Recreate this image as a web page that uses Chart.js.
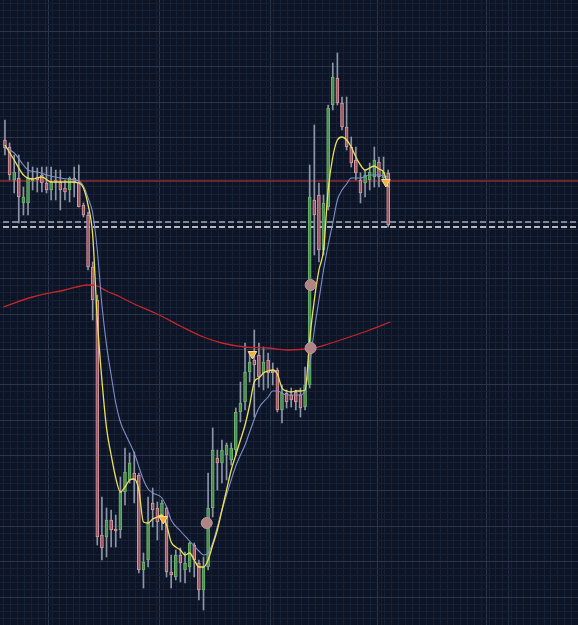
<!DOCTYPE html>
<html>
<head>
<meta charset="utf-8">
<script src="https://cdn.jsdelivr.net/npm/chart.js@4.4.1/dist/chart.umd.min.js"></script>
<style>
  html, body { margin: 0; padding: 0; background: #0c1425; overflow: hidden; }
  #chart { display: block; }
</style>
</head>
<body>
<canvas id="chart" width="578" height="625"></canvas>
<script>
// candles, one entry per bar (index = position in the array)
const open  = [1485,1478,1445,1447,1422,1422,1444,1448,1450,1442,1435,1445,1443,1437,1435,1447,1443,1420,1410,1358,
               1325,1090,1088,1105,1096,1095,1133,1145,1152,1150,1055,1065,1122,1117,1105,1117,1053,1048,1070,1055,
               1058,1080,1062,1035,1058,1117,1167,1162,1170,1165,1175,1213,1223,1253,1265,1270,1252,1265,1254,1255,
               1215,1232,1230,1233,1230,1218,1240,1425,1430,1375,1418,1520,1547,1522,1498,1478,1465,1445,1442,1445,
               1448,1463,1447,1452];
const high  = [1505,1482,1470,1470,1438,1463,1458,1457,1458,1458,1458,1455,1455,1445,1448,1458,1460,1422,1413,1363,
               1330,1128,1117,1115,1110,1148,1177,1172,1173,1152,1072,1128,1137,1123,1125,1118,1070,1075,1077,1073,
               1083,1082,1065,1068,1152,1197,1175,1185,1182,1182,1217,1243,1282,1272,1295,1282,1278,1272,1262,1257,
               1240,1235,1237,1235,1237,1258,1460,1500,1442,1430,1520,1562,1572,1528,1528,1488,1478,1452,1455,1462,
               1478,1468,1468,1455];
const low   = [1470,1445,1432,1402,1410,1410,1435,1433,1433,1432,1425,1425,1415,1425,1423,1428,1418,1408,1355,1305,
               1080,1065,1068,1078,1078,1087,1120,1142,1122,1052,1037,1058,1098,1085,1095,1048,1037,1045,1043,1042,
               1053,1048,1025,1015,1055,1108,1135,1142,1145,1160,1170,1203,1215,1243,1208,1238,1235,1237,1240,1213,
               1202,1217,1218,1215,1208,1215,1237,1370,1363,1370,1415,1515,1520,1495,1475,1458,1445,1422,1428,1435,
               1438,1438,1443,1398];
const close = [1477,1450,1453,1428,1428,1447,1447,1445,1442,1435,1443,1444,1435,1433,1447,1443,1418,1410,1358,1325,
               1088,1077,1105,1095,1094,1133,1153,1162,1145,1055,1063,1103,1115,1103,1122,1053,1050,1070,1062,1062,
               1082,1065,1035,1058,1117,1175,1162,1175,1180,1177,1213,1222,1253,1263,1260,1248,1263,1252,1252,1215,
               1232,1223,1225,1223,1217,1240,1428,1410,1375,1422,1517,1548,1522,1498,1478,1462,1452,1432,1450,1453,
               1465,1448,1453,1400];

// moving averages: [bar index, value]
const fastMaIdx = [0,2,4,6,8,10,12,14,16,17,18,19,20,21,22,23,24,25,26,27,28,29,30,31,32,33,34,35,36,37,38,39,40,41,42,43,
                   44,45,46,47,48,49,50,51,52,53,54,55,56,57,58,59,60,61,62,63,64,65,66,67,68,69,70,71,72,73,74,75,76,77,
                   78,79,80,81,82,83];
const fastMa    = [1480,1465,1450,1446,1448,1443,1443,1443,1442,1437,1420,1390,1305,1245,1197,1170,1147,1133,1138,1145,
                   1146,1135,1103,1102,1106,1108,1110,1100,1083,1078,1075,1070,1072,1065,1058,1058,1065,1080,1095,1115,
                   1135,1155,1170,1185,1200,1220,1243,1247,1252,1254,1255,1251,1237,1234,1233,1234,1234,1235,1285,1325,
                   1355,1375,1435,1468,1485,1488,1485,1478,1468,1460,1455,1457,1459,1456,1453,1438];
const slowMaIdx = [0,2,4,5,7,9,12,15,16,17,18,19,20,21,22,23,24,25,26,28,30,31,32,34,35,36,38,40,42,43,44,45,46,47,49,50,
                   51,52,53,55,57,58,59,61,63,64,65,66,67,68,69,70,71,72,73,74,75,77,79,81,83];
const slowMa    = [1478,1472,1460,1455,1453,1450,1447,1445,1444,1439,1427,1412,1375,1320,1280,1250,1222,1203,1192,1172,
                   1145,1136,1132,1127,1118,1105,1094,1084,1074,1070,1072,1082,1098,1115,1145,1159,1170,1180,1193,1217,
                   1228,1234,1234,1230,1230,1230,1235,1260,1295,1325,1355,1380,1402,1425,1435,1441,1447,1447,1450,1450,
                   1448];
const longMaIdx = [-0.4,6,13,18,20,22,25,28,33,38,43,47,52,57,61,65,67,70,74,79,83.5];
const longMa    = [1318,1328,1335,1340,1339,1334,1328,1321,1311,1299,1288,1282,1278,1277,1275,1276,1277,1281,1287,1295,1303];

// horizontal price levels
const levelRed = 1444;
const levelGrey = 1403;
const levelWhite = 1398;

// signal markers
const dotX = [66.2, 66.2, 43.7];
const dotY = [1340, 1277, 1102];
const arrowX = [53.6, 34.3, 82.5];
const arrowY = [1271, 1106, 1443];

// view window
const xMin = -0.36, xMax = 123.4;
const yMin = 1000, yMax = 1625;
const xMajors = [9.5, 33.5, 57.5, 81.4, 104.4];
const xMedium = [109.5];

const upFill = '#4c8c4e', upEdge = '#6fb572';
const dnFill = '#9c5460', dnEdge = '#d59ca4';
const wickCol = '#8c95a6';

const wicks = low.map((l, i) => ({ x: i, y: [l, high[i]] }));
const bodies = open.map((o, i) => ({ x: i, y: o === close[i] ? [o - 0.6, o + 0.6] : [o, close[i]] }));
const isUp = open.map((o, i) => close[i] >= o);

const pts = (xs, ys) => xs.map((x, i) => ({ x: x, y: ys[i] }));
const level = v => [{ x: xMin - 2, y: v }, { x: xMax + 2, y: v }];

const gridColor = ctx => {
  const t = ctx.tick || {};
  if (t.lvl === 2) return '#29364c';
  if (t.lvl === 1) return '#222d43';
  return '#162135';
};

new Chart(document.getElementById('chart'), {
  data: {
    datasets: [
      { type: 'line', data: pts(fastMaIdx, fastMa), borderColor: '#ece25a', borderWidth: 1.3,
        pointRadius: 0, cubicInterpolationMode: 'monotone', order: 1 },
      { type: 'line', data: pts(slowMaIdx, slowMa), borderColor: '#7f90c8', borderWidth: 1.1,
        pointRadius: 0, cubicInterpolationMode: 'monotone', order: 2 },
      { type: 'line', data: pts(longMaIdx, longMa), borderColor: '#c3262b', borderWidth: 1.3,
        pointRadius: 0, cubicInterpolationMode: 'monotone', order: 2 },
      { type: 'line', data: level(levelRed), borderColor: '#8e2b30', borderWidth: 1.3, pointRadius: 0, order: 6 },
      { type: 'line', data: level(levelGrey), borderColor: '#a3a8b2', borderWidth: 1.6, borderDash: [6, 3],
        pointRadius: 0, order: 6 },
      { type: 'line', data: level(levelWhite), borderColor: '#f0f0f0', borderWidth: 1.6, borderDash: [6, 3],
        pointRadius: 0, order: 6 },
      { type: 'bar', data: wicks, backgroundColor: wickCol, barThickness: 1, grouped: false, order: 4 },
      { type: 'bar', data: bodies, grouped: false, barThickness: 3, borderWidth: 1, borderSkipped: false,
        backgroundColor: isUp.map(u => u ? upFill : dnFill),
        borderColor: isUp.map(u => u ? upEdge : dnEdge), order: 3 },
      { type: 'scatter', data: pts(dotX, dotY), pointRadius: 5.5, backgroundColor: '#b08486',
        borderColor: '#c19597', borderWidth: 1, order: 0 },
      { type: 'scatter', data: pts(arrowX, arrowY), pointStyle: 'triangle', rotation: 180, pointRadius: 5,
        backgroundColor: '#eeb04a', borderColor: '#ffd98c', borderWidth: 1, order: 0 }
    ]
  },
  options: {
    responsive: false,
    animation: false,
    layout: { padding: 0, autoPadding: false },
    plugins: { legend: { display: false }, tooltip: { enabled: false } },
    scales: {
      x: {
        type: 'linear', min: xMin, max: xMax,
        ticks: { display: false },
        border: { display: false },
        grid: { color: gridColor, drawTicks: false, lineWidth: 1 },
        afterBuildTicks: scale => {
          const t = [];
          for (let v = xMajors[0] - 1.5 * 6; v <= xMax; v += 1.5) {
            if (v >= xMin) t.push({ value: v, lvl: 0 });
          }
          xMajors.forEach(v => t.push({ value: v, lvl: 2 }));
          xMedium.forEach(v => t.push({ value: v, lvl: 1 }));
          t.sort((a, b) => a.value - b.value);
          scale.ticks = t;
        }
      },
      y: {
        min: yMin, max: yMax,
        ticks: { display: false },
        border: { display: false },
        grid: { color: gridColor, drawTicks: false, lineWidth: 1 },
        afterBuildTicks: scale => {
          const t = [];
          let k = 0;
          for (let v = 1028 - 7.07 * 3; v <= yMax; v += 7.07, k++) {
            if (v >= yMin) t.push({ value: v, lvl: (k - 3) % 5 === 0 ? 2 : 0 });
          }
          scale.ticks = t;
        }
      }
    }
  }
});
</script>
</body>
</html>
